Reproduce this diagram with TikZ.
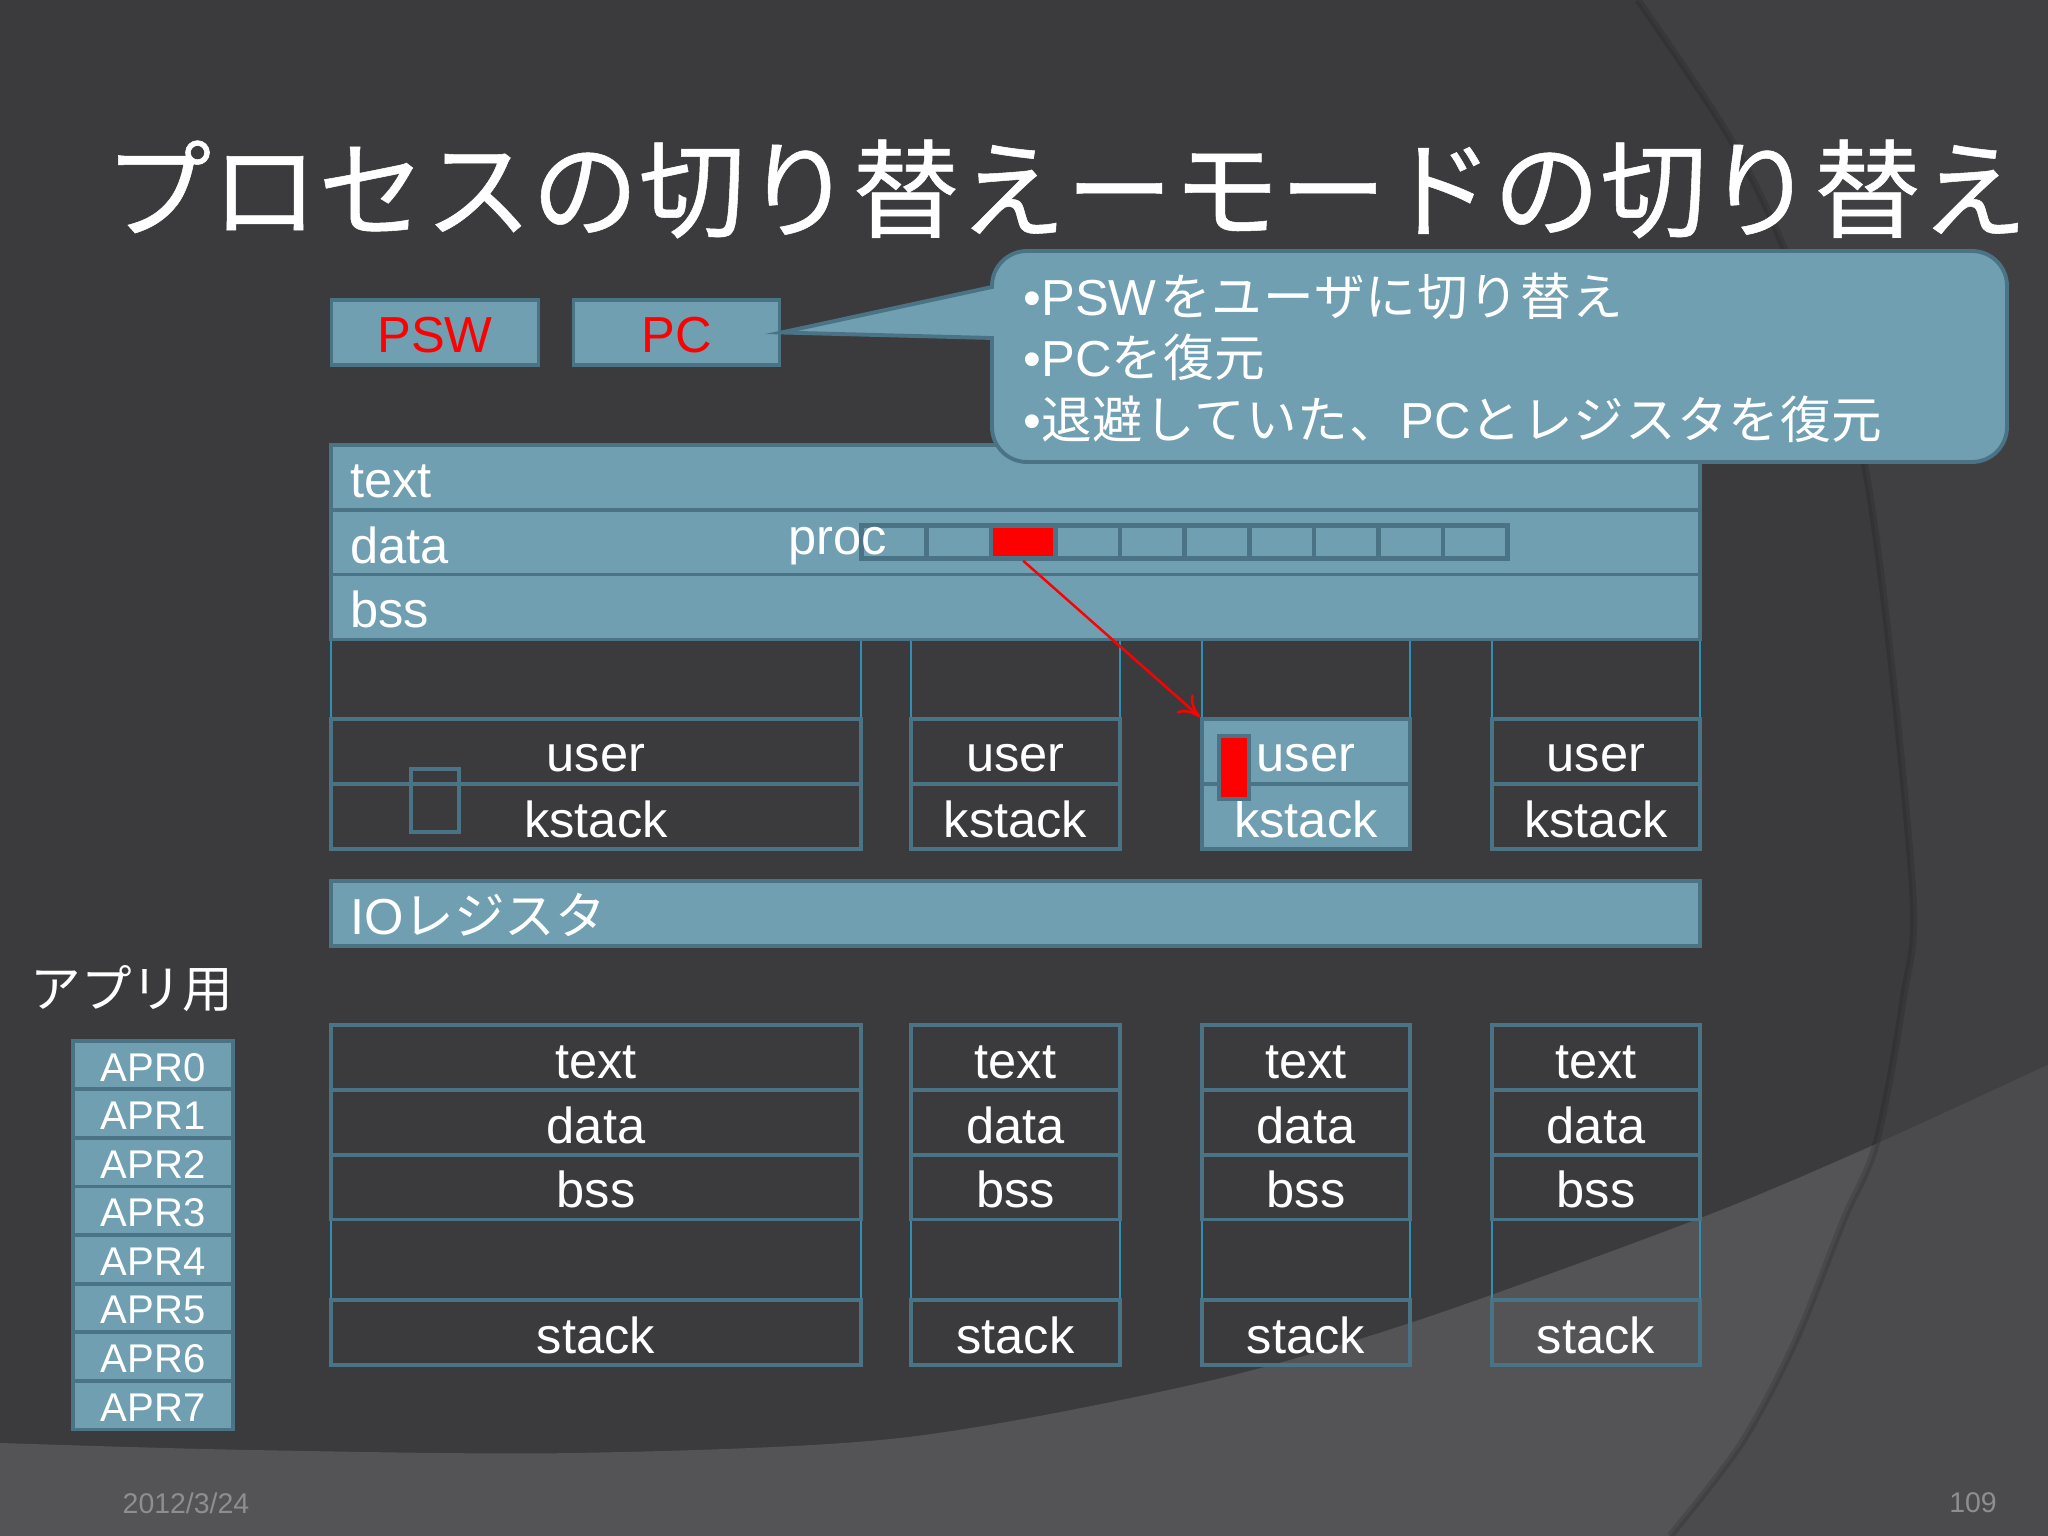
\documentclass[tikz,border=0pt]{standalone}
\usepackage{fontspec}
\setmainfont{Liberation Sans}
\newfontfamily\jp{Noto Sans CJK JP}
\newfontfamily\jptitle[FakeBold=.5]{Noto Sans CJK JP}
\newfontfamily\jpnote[LetterSpace=2]{Noto Sans CJK JP}
\usetikzlibrary{arrows.meta}

\definecolor{slide}{HTML}{3B3B3D}
\definecolor{slideright}{HTML}{404042}
\definecolor{band}{HTML}{545456}
\definecolor{bandright}{HTML}{4B4B4D}
\definecolor{tealfill}{HTML}{6F9FB1}
\definecolor{tealedge}{HTML}{4A7486}
\definecolor{gapblue}{HTML}{2F8FB5}
\definecolor{footgray}{HTML}{8E8E90}

\def\bandpath{plot[smooth] coordinates {(0,-14.43) (2.5,-14.5) (5.74,-14.53) (9,-14.38) (12,-13.83) (14.16,-13.21) (17.03,-12.17) (18.76,-11.44) (20.48,-10.65)} -- (20.48,-15.36) -- (0,-15.36) -- cycle}
\def\swoopline{plot[smooth] coordinates {(16.38,0) (17.27,-1.33) (17.84,-2.48) (18.64,-4.62) (19.12,-8.8) (19.03,-10) (18.76,-11.44) (18.44,-12.19) (17.95,-13.42) (17.41,-14.44) (16.7,-15.36)}}

\tikzset{
  plainbox/.style={draw=tealedge, line width=1.1pt, minimum height=.65cm, text height=.41cm, text depth=0pt},
  tealbox/.style={plainbox, fill=tealfill},
  leftbox/.style={tealbox, minimum width=13.69cm, text width=13.31cm, align=left},
  aprbox/.style={tealbox, minimum width=1.60cm, minimum height=.486cm, text height=.32cm, font=\fontsize{11.4}{13}\selectfont},
  cellbox/.style={draw=tealedge, line width=1.3pt, fill=tealfill, minimum width=.646cm, minimum height=.33cm},
  gapline/.style={draw=gapblue, line width=.35pt},
  notebox/.style={draw=tealedge, line width=1.1pt, fill=tealfill}
}

\begin{document}
\begin{tikzpicture}
    [every node/.style={inner sep=0pt, text=white, font=\fontsize{14.4}{17.5}\selectfont}]
  \useasboundingbox (0,0) rectangle (20.48,-15.36);

  % slide background
  \fill[slide] (0,0) rectangle (20.48,-15.36);
  \fill[slideright] \swoopline -- (20.48,-15.36) -- (20.48,0) -- cycle;
  \fill[band] \bandpath;
  \begin{scope}
    \clip \swoopline -- (20.48,-15.36) -- (20.48,0) -- cycle;
    \fill[bandright] \bandpath;
  \end{scope}
  \draw[black, opacity=.12, line width=2pt] \swoopline;

  \node (title) at (10.66,-1.89) {\jptitle\fontsize{30.4}{36}\selectfont プロセスの切り替えーモードの切り替え};

  % registers
  \node[tealbox, minimum width=2.07cm, text=red] (psw) at (4.35,-3.325) {PSW};
  \node[tealbox, minimum width=2.06cm, text=red] (pc) at (6.765,-3.325) {PC};

  % kernel segments
  \node[leftbox] (ktext) at (10.155,-4.775) {text};
  \node[leftbox] (kdata) at (10.155,-5.425) {data};
  \node[leftbox] (kbss) at (10.155,-6.07) {bss};

  \foreach \i in {0,...,9}
    \node[cellbox] (cell\i) at ({8.94+\i*.646},-5.42) {};
  \node[cellbox, fill=red] (cell2) at ({8.94+2*.646},-5.42) {};
  \node[anchor=base west] (proc) at (7.88,-5.55) {proc};

  % user and kstack of each process
  \foreach \col/\cx/\colw/\sty in {a/5.96/5.30/plainbox, b/10.155/2.09/plainbox, c/13.06/2.08/tealbox, d/15.96/2.08/plainbox} {
    \node[\sty, minimum width=\colw cm] (\col user) at (\cx,-7.515) {user};
    \node[\sty, minimum width=\colw cm] (\col kstack) at (\cx,-8.165) {kstack};
    \draw[gapline] ([xshift=.55pt]\col user.north west) -- ([xshift=.55pt]\col user.north west |- kbss.south);
    \draw[gapline] ([xshift=-.55pt]\col user.north east) -- ([xshift=-.55pt]\col user.north east |- kbss.south);
  }
  \node[draw=tealedge, line width=1.1pt, minimum width=.48cm, minimum height=.63cm] (swapbox) at (4.35,-8.005) {};
  \node[draw=tealedge, line width=1.1pt, fill=red, minimum width=.3cm, minimum height=.63cm] (pcbbar) at (12.34,-7.675) {};

  \node[leftbox] (iobox) at (10.155,-9.135) {IO{\jp レジスタ}};

  % application segments
  \node (applabel) at (1.32,-9.89) {\jp アプリ用};
  \foreach \i in {0,...,7}
    \node[aprbox] (apr\i) at (1.53,{-10.65-\i*.486}) {APR\i};

  \foreach \col/\cx/\colw in {a/5.96/5.30, b/10.155/2.09, c/13.06/2.08, d/15.96/2.08} {
    \node[plainbox, minimum width=\colw cm] (\col text) at (\cx,-10.575) {text};
    \node[plainbox, minimum width=\colw cm] (\col data) at (\cx,-11.225) {data};
    \node[plainbox, minimum width=\colw cm] (\col bss) at (\cx,-11.87) {bss};
    \node[plainbox, minimum width=\colw cm] (\col stack) at (\cx,-13.325) {stack};
    \draw[gapline] ([xshift=.55pt]\col bss.south west) -- ([xshift=.55pt]\col stack.north west);
    \draw[gapline] ([xshift=-.55pt]\col bss.south east) -- ([xshift=-.55pt]\col stack.north east);
  }

  % balloon
  \draw[notebox] (pc.east) -- (9.92,-2.87) [rounded corners=.35cm] -- (9.92,-2.51) -- (20.07,-2.51) -- (20.07,-4.62) -- (9.92,-4.62) [rounded corners=0pt] -- (9.92,-3.38) -- cycle;
  \node[anchor=west, align=left] (note) at (10.23,-3.575) {•PSW{\jpnote\hspace{1pt}をユーザに切り替え}\\•PC{\jpnote を復元}\\•{\jpnote 退避していた、}PC{\jpnote とレジスタを復元}};

  \draw[red, line width=.7pt, -{To[length=6pt,width=7pt]}] (cell2.south) -- (cuser.north west);

  \node[text=footgray, font=\fontsize{8.1}{10}\selectfont] (date) at (1.86,-15.03) {2012/3/24};
  \node[text=footgray, font=\fontsize{8.1}{10}\selectfont] (page) at (19.73,-15.03) {109};
\end{tikzpicture}
\end{document}
